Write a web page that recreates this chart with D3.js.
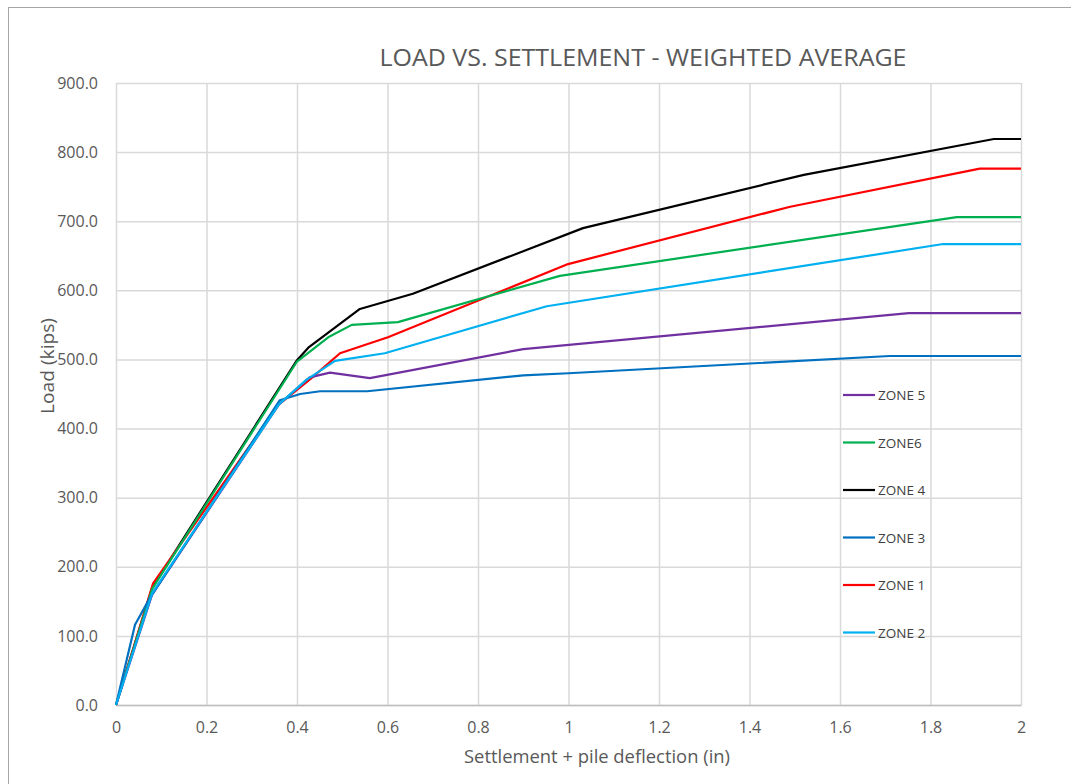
<!DOCTYPE html>
<html>
<head>
<meta charset="utf-8">
<script src="https://cdn.jsdelivr.net/npm/d3@7"></script>
<style>
  body { margin: 0; background: #fff; }
  text { font-family: "Open Sans", "Liberation Sans", sans-serif; fill: #595959; }
</style>
</head>
<body>
<svg id="chart"></svg>
<script>
// data
var xTicks = [0, 0.2, 0.4, 0.6, 0.8, 1, 1.2, 1.4, 1.6, 1.8, 2];
var yTicks = [0, 100, 200, 300, 400, 500, 600, 700, 800, 900];

var zone5X = [0, 0.08, 0.36, 0.428, 0.473, 0.561, 0.9, 1.752, 2];
var zone5Y = [0, 160, 435, 474, 481, 473, 515, 567, 567];

var zone6X = [0, 0.08, 0.4, 0.469, 0.521, 0.623, 0.981, 1.858, 2];
var zone6Y = [0, 168, 497, 532, 550, 554, 621, 706, 706];

var zone4X = [0, 0.08, 0.4, 0.425, 0.539, 0.656, 1.032, 1.52, 1.94, 2];
var zone4Y = [0, 170, 499, 517, 573, 595, 690, 767, 819, 819];

var zone3X = [0, 0.042, 0.075, 0.362, 0.407, 0.451, 0.555, 0.9, 1.0, 1.71, 2];
var zone3Y = [0, 116, 155, 441, 450, 454, 454, 477, 480, 505, 505];

var zone1X = [0, 0.082, 0.36, 0.43, 0.495, 0.601, 0.999, 1.49, 1.909, 2];
var zone1Y = [0, 176, 435, 472, 509, 532, 638, 721, 776, 776];

var zone2X = [0, 0.08, 0.36, 0.42, 0.484, 0.594, 0.952, 1.828, 2];
var zone2Y = [0, 162, 435, 470, 498, 509, 577, 667, 667];

var zoneNames = ["ZONE 5", "ZONE6", "ZONE 4", "ZONE 3", "ZONE 1", "ZONE 2"];
var zoneColors = ["#7030a0", "#00b050", "#000000", "#0070c0", "#ff0000", "#00b0f0"];
var zoneXs = [zone5X, zone6X, zone4X, zone3X, zone1X, zone2X];
var zoneYs = [zone5Y, zone6Y, zone4Y, zone3Y, zone1Y, zone2Y];

// draw order (zone 3 / zone 2 on top near the origin)
var drawOrder = [2, 4, 1, 0, 3, 5];

var width = 1071, height = 784;
var margin = {top: 83, right: 50, bottom: 79, left: 116};

var svg = d3.select('#chart')
    .attr('width', width)
    .attr('height', height);

// outer frame
svg.append('rect')
    .attr('x', 8.5).attr('y', 7.5)
    .attr('width', width + 10).attr('height', height + 10)
    .attr('fill', 'none')
    .attr('stroke', '#a6a6a6');

var xScale = d3.scaleLinear()
    .domain([0, 2])
    .range([margin.left, width - margin.right]);

var yScale = d3.scaleLinear()
    .domain([0, 900])
    .range([height - margin.bottom, margin.top]);

// gridlines
var xGrid = d3.axisTop(xScale)
    .tickValues(xTicks)
    .tickFormat('')
    .tickSize(height - margin.top - margin.bottom);
svg.append('g')
    .attr('transform', 'translate(0,' + (height - margin.bottom) + ')')
    .call(xGrid)
    .call(g => g.select('.domain').remove())
    .selectAll('line').attr('stroke', '#d9d9d9').attr('stroke-width', 1.5);

var yGrid = d3.axisLeft(yScale)
    .tickValues(yTicks)
    .tickFormat('')
    .tickSize(-(width - margin.left - margin.right));
svg.append('g')
    .attr('transform', 'translate(' + margin.left + ',0)')
    .call(yGrid)
    .call(g => g.select('.domain').remove())
    .selectAll('line').attr('stroke', '#d9d9d9').attr('stroke-width', 1.5);

// tick labels
var xAxis = d3.axisBottom(xScale)
    .tickValues(xTicks)
    .tickFormat(d3.format('~g'))
    .tickSize(0)
    .tickPadding(17);
svg.append('g')
    .attr('transform', 'translate(0,' + (height - margin.bottom) + ')')
    .call(xAxis)
    .call(g => g.select('.domain').attr('stroke', '#bfbfbf').attr('stroke-width', 1.5))
    .selectAll('text')
    .style('font-size', '16px')
    .style('font-family', '"Open Sans", sans-serif')
    .attr('fill', '#595959');

var yAxis = d3.axisLeft(yScale)
    .tickValues(yTicks)
    .tickFormat(d3.format('.1f'))
    .tickSize(0)
    .tickPadding(18);
svg.append('g')
    .attr('transform', 'translate(' + margin.left + ',0)')
    .call(yAxis)
    .call(g => g.select('.domain').remove())
    .selectAll('text')
    .style('font-size', '16px')
    .style('font-family', '"Open Sans", sans-serif')
    .attr('fill', '#595959');

// lines
var line = d3.line()
    .x(d => xScale(d[0]))
    .y(d => yScale(d[1]));

drawOrder.forEach(function(i){
    var pts = zoneXs[i].map((x, k) => [x, zoneYs[i][k]]);
    svg.append('path')
        .datum(pts)
        .attr('d', line)
        .attr('fill', 'none')
        .attr('stroke', zoneColors[i])
        .attr('stroke-width', 2.2)
        .attr('stroke-linejoin', 'round');
});

// legend
var legendX = 843, legendY = 395, legendStep = 47.5;
zoneNames.forEach(function(name, i){
    var y = legendY + i * legendStep;
    svg.append('line')
        .attr('x1', legendX).attr('x2', legendX + 32)
        .attr('y1', y).attr('y2', y)
        .attr('stroke', zoneColors[i])
        .attr('stroke-width', 2.2);
    svg.append('text')
        .attr('x', legendX + 35)
        .attr('y', y + 5)
        .style('font-size', '13.5px')
        .style('fill', '#404040')
        .text(name);
});

// titles
svg.append('text')
    .attr('x', 643)
    .attr('y', 66)
    .attr('text-anchor', 'middle')
    .attr('textLength', 527)
    .attr('lengthAdjust', 'spacingAndGlyphs')
    .style('font-size', '24px')
    .text('LOAD VS. SETTLEMENT - WEIGHTED AVERAGE');

svg.append('text')
    .attr('x', 597)
    .attr('y', 763)
    .attr('text-anchor', 'middle')
    .attr('textLength', 266)
    .attr('lengthAdjust', 'spacingAndGlyphs')
    .style('font-size', '18px')
    .text('Settlement + pile deflection (in)');

svg.append('text')
    .attr('transform', 'translate(54,366) rotate(-90)')
    .attr('text-anchor', 'middle')
    .attr('textLength', 96)
    .attr('lengthAdjust', 'spacingAndGlyphs')
    .style('font-size', '19px')
    .text('Load (kips)');
</script>
</body>
</html>
